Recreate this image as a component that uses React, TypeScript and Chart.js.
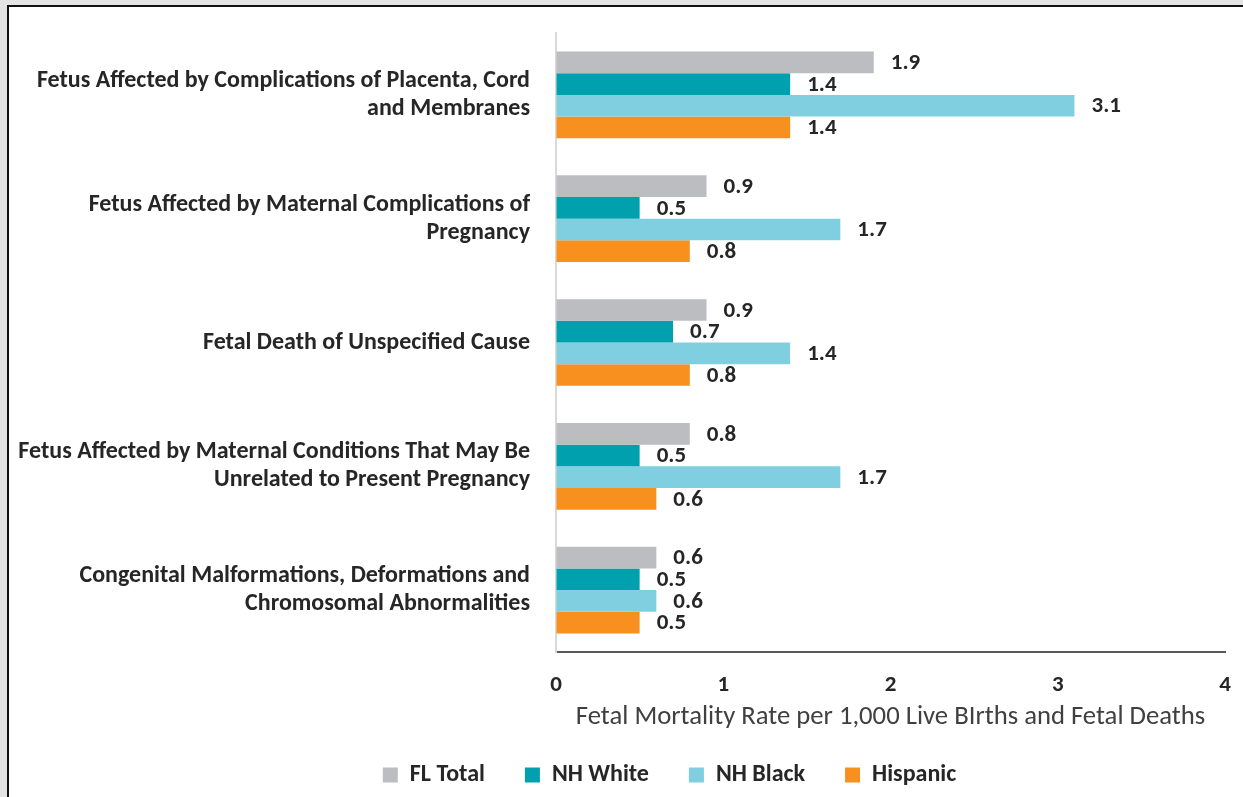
import React, { useEffect, useRef } from 'react';
import { Chart, registerables } from 'chart.js';

Chart.register(...registerables);

const FONT = 'Carlito, Lato, "Open Sans", sans-serif';

const categories: string[][] = [
  ['Fetus Affected by Complications of Placenta, Cord', 'and Membranes'],
  ['Fetus Affected by Maternal Complications of', 'Pregnancy'],
  ['Fetal Death of Unspecified Cause'],
  ['Fetus Affected by Maternal Conditions That May Be', 'Unrelated to Present Pregnancy'],
  ['Congenital Malformations, Deformations and', 'Chromosomal Abnormalities'],
];

const seriesNames = ['FL Total', 'NH White', 'NH Black', 'Hispanic'];
const flTotal = [1.9, 0.9, 0.9, 0.8, 0.6];
const nhWhite = [1.4, 0.5, 0.7, 0.5, 0.5];
const nhBlack = [3.1, 1.7, 1.4, 1.7, 0.6];
const hispanic = [1.4, 0.8, 0.8, 0.6, 0.5];
const xTickValues = [0, 1, 2, 3, 4];
const xAxisTitle = 'Fetal Mortality Rate per 1,000 Live BIrths and Fetal Deaths';

const seriesColors = ['#BCBDC0', '#00A0AF', '#7FCFE1', '#F7901E'];

const valueLabels = {
  id: 'valueLabels',
  afterDatasetsDraw(chart: any) {
    const ctx = chart.ctx;
    ctx.save();
    ctx.font = `bold 23px ${FONT}`;
    ctx.fillStyle = '#262626';
    ctx.textBaseline = 'middle';
    ctx.textAlign = 'left';
    chart.data.datasets.forEach((ds: any, i: number) => {
      const meta = chart.getDatasetMeta(i);
      meta.data.forEach((bar: any, j: number) => {
        ctx.fillText(Number(ds.data[j]).toFixed(1), bar.x + 17, bar.y + 1);
      });
    });
    ctx.restore();
  },
};

// Moves the (centred) legend so that it sits under the same spot as in the reference.
const legendShift = {
  id: 'legendShift',
  afterLayout(chart: any) {
    if (chart.legend) {
      chart.legend.left += 57;
      chart.legend.right += 57;
    }
  },
};

const zeroPadding = (scale: any) => {
  scale.paddingTop = 0;
  scale.paddingBottom = 0;
  scale.paddingLeft = 0;
  scale.paddingRight = 0;
};

export default function App() {
  const canvasRef = useRef<HTMLCanvasElement | null>(null);

  useEffect(() => {
    if (!canvasRef.current) return;
    const seriesData = [flTotal, nhWhite, nhBlack, hispanic];
    const chart = new Chart(canvasRef.current, {
      type: 'bar',
      data: {
        labels: categories,
        datasets: seriesNames.map((name, i) => ({
          label: name,
          data: seriesData[i],
          backgroundColor: seriesColors[i],
          borderWidth: 0,
          barPercentage: 1,
          categoryPercentage: 0.7,
        })),
      },
      options: {
        indexAxis: 'y',
        animation: false,
        responsive: false,
        devicePixelRatio: 1,
        layout: { padding: { top: 33, right: 18, bottom: 0, left: 0 } },
        plugins: {
          tooltip: { enabled: false },
          legend: {
            display: true,
            position: 'bottom',
            labels: {
              boxWidth: 15,
              boxHeight: 15,
              padding: 40,
              color: '#262626',
              font: { family: FONT, size: 24, weight: 'bold' },
            },
          },
        },
        scales: {
          x: {
            type: 'linear',
            min: 0,
            max: 4,
            afterBuildTicks: (scale: any) => {
              scale.ticks = xTickValues.map((v) => ({ value: v }));
            },
            afterFit: (scale: any) => {
              scale.height = 71;
              zeroPadding(scale);
            },
            grid: { display: true, color: 'rgba(0,0,0,0)', drawTicks: false },
            border: { display: true, color: '#595959', width: 2 },
            ticks: {
              padding: 19,
              color: '#262626',
              font: { family: FONT, size: 23, weight: 'bold' },
            },
            title: {
              display: true,
              text: xAxisTitle,
              color: '#404040',
              font: { family: FONT, size: 26.7, weight: 'normal' },
              padding: { top: 0, bottom: -10 },
            },
          },
          y: {
            type: 'category',
            afterFit: (scale: any) => {
              scale.width = 556;
              zeroPadding(scale);
            },
            grid: { display: true, color: 'rgba(0,0,0,0)', drawTicks: false },
            border: { display: true, color: '#D9D9D9', width: 2 },
            ticks: {
              padding: 26,
              color: '#262626',
              font: { family: FONT, size: 24, weight: 'bold', lineHeight: 1.17 },
            },
          },
        },
      },
      plugins: [valueLabels, legendShift],
    } as any);
    return () => chart.destroy();
  }, []);

  return (
    <div
      style={{
        position: 'fixed',
        left: 0,
        top: 0,
        width: 1243,
        height: 797,
        background: '#E4E4E4',
        overflow: 'hidden',
      }}
    >
      <div
        style={{
          position: 'absolute',
          left: 7,
          top: 5,
          right: 0,
          bottom: 0,
          background: '#FFFFFF',
          borderLeft: '2px solid #111111',
          borderTop: '2px solid #111111',
        }}
      />
      <canvas
        ref={canvasRef}
        width={1243}
        height={797}
        style={{ position: 'absolute', left: 0, top: 0, width: 1243, height: 797 }}
      />
    </div>
  );
}
